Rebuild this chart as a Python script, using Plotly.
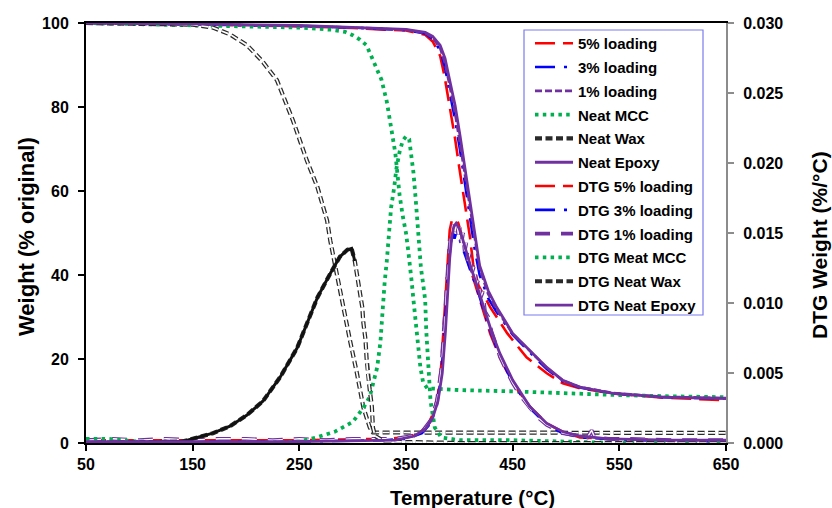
import plotly.graph_objects as go

# ---- TG curves: temperature (°C) vs weight (% of original) ----
tg5_t = [50, 150, 250, 300, 350, 368, 375, 382, 386, 391, 396, 400, 405, 410, 413, 418, 429, 445, 463, 482, 497, 513, 544, 591, 650]
tg5_w = [100, 99.7, 99.2, 98.8, 98.2, 97.2, 95.6, 92.2, 87.5, 80.5, 72.5, 65.5, 57.5, 49, 42.5, 37.5, 32.3, 26.1, 20.4, 16.6, 14.2, 13.0, 11.8, 10.8, 10.2]

tg3_t = [50, 150, 250, 300, 350, 368, 375, 382, 386.5, 391, 396, 400.5, 405, 410, 414.5, 419, 427, 435, 450, 466, 482, 497, 513, 544, 591, 650]
tg3_w = [100, 99.7, 99.3, 98.9, 98.3, 97.5, 96.2, 93.5, 89.5, 83.5, 77, 70, 62.5, 54, 46, 40, 34.5, 31.2, 25.8, 21.6, 17.6, 14.7, 13.2, 11.8, 10.9, 10.6]

tg1_t = [50, 150, 250, 300, 350, 368, 375, 382, 386.5, 391, 396, 400.5, 405, 410, 414.5, 419, 427, 435, 450, 466, 482, 497, 513, 544, 591, 650]
tg1_w = [100, 99.7, 99.3, 98.9, 98.4, 97.6, 96.5, 94, 90.5, 85, 78.5, 71.5, 64, 56, 48, 41.5, 35.5, 31.8, 26, 22, 17.9, 14.9, 13.3, 11.9, 11.0, 10.7]

tgE_t = [50, 150, 250, 300, 350, 368, 375, 382, 386.6, 391, 396, 400.6, 405, 410, 414.7, 419, 427, 435, 450, 466, 482, 497, 513, 544, 591, 650]
tgE_w = [100, 99.8, 99.4, 99.0, 98.5, 97.8, 96.8, 94.7, 91.6, 86.3, 80.4, 73.3, 66.1, 57.8, 49.5, 42.3, 36.3, 32.3, 26.1, 22.1, 18.0, 14.9, 13.3, 11.8, 10.9, 10.6]

mcc_t = [50, 100, 150, 200, 250, 280, 293, 300, 307, 313, 319, 323, 327, 332, 336, 340, 342, 344, 347, 350, 352, 354, 355.5, 357, 358.5, 360, 361.5, 363.5, 366, 370, 380, 400, 450, 500, 550, 600, 650]
mcc_w = [100, 99.7, 99.4, 99.2, 98.9, 98.4, 97.9, 97.1, 96.0, 94.7, 91.0, 89.0, 86.5, 81.3, 74.5, 69, 64, 59, 54, 50, 46, 42, 38, 34, 30, 26, 22, 18, 14.5, 13.0, 12.9, 12.6, 12.3, 11.8, 11.4, 11.1, 10.9]

wax_t = [50, 100, 150, 169, 185, 201, 215, 229, 244, 257, 267, 276, 279, 285, 291, 297.5, 304, 310, 316, 319, 330, 400, 500, 650]
wax_w = [100, 99.9, 99.6, 98.9, 97.3, 94.7, 91.0, 86.4, 76.8, 67.3, 60.9, 53.0, 48.2, 40.4, 32.3, 24.4, 16.6, 8.5, 3.7, 2.5, 2.5, 2.5, 2.5, 2.4]

# ---- DTG curves: temperature (°C) vs derivative weight (%/°C) ----
d5_t = [50, 150, 250, 330, 350, 362, 370, 376, 380, 383, 385, 387, 389, 391, 393, 396, 399, 402, 405, 409, 413, 418, 422, 429, 438, 450, 466, 482, 497, 513, 540, 600, 650]
d5_v = [0.0002, 0.0002, 0.0002, 0.0003, 0.0004, 0.0007, 0.0012, 0.0022, 0.0035, 0.0055, 0.0080, 0.0108, 0.0135, 0.0152, 0.0159, 0.0160, 0.0157, 0.0149, 0.0138, 0.0127, 0.0118, 0.0105, 0.0095, 0.0078, 0.0061, 0.0043, 0.0026, 0.0014, 0.0008, 0.0004, 0.0003, 0.0002, 0.0002]

d3_t = [50, 250, 330, 350, 365, 373, 379, 383, 386, 388, 390, 392, 394, 395.5, 397, 399, 402, 406, 410, 414, 418, 422, 429, 438, 450, 466, 482, 497, 513, 560, 650]
d3_v = [0.0001, 0.0001, 0.0002, 0.0003, 0.0007, 0.0014, 0.0027, 0.0048, 0.0078, 0.0105, 0.0128, 0.0143, 0.0150, 0.0146, 0.0150, 0.0148, 0.0142, 0.0133, 0.0124, 0.0116, 0.0107, 0.0097, 0.0080, 0.0062, 0.0043, 0.0025, 0.0013, 0.0007, 0.0004, 0.0002, 0.0001]

d1_t = [50, 75, 100, 125, 150, 175, 200, 225, 250, 275, 300, 320, 340, 355, 366, 374, 379, 383, 386, 388, 390, 392, 394, 396, 397.5, 399, 400.5, 402, 403.5, 405, 406.5, 408, 410, 412, 414, 416, 418, 420, 422, 424, 427, 430, 434, 438, 444, 450, 458, 466, 474, 482, 490, 497, 505, 513, 520, 524, 527, 540, 560, 600, 650]
d1_v = [0.0002, 0.0003, 0.0002, 0.0003, 0.0002, 0.0003, 0.0003, 0.0002, 0.0003, 0.0002, 0.0003, 0.0003, 0.0003, 0.0005, 0.0009, 0.0017, 0.0030, 0.0052, 0.0082, 0.0110, 0.0133, 0.0149, 0.0156, 0.0151, 0.0158, 0.0149, 0.0154, 0.0143, 0.0150, 0.0137, 0.0143, 0.0130, 0.0136, 0.0122, 0.0127, 0.0113, 0.0117, 0.0104, 0.0108, 0.0094, 0.0090, 0.0080, 0.0071, 0.0062, 0.0052, 0.0043, 0.0033, 0.0025, 0.0018, 0.0013, 0.0010, 0.0007, 0.0006, 0.0005, 0.0004, 0.0009, 0.0004, 0.0003, 0.0003, 0.0002, 0.0002]

dE_t = [50, 250, 340, 358, 368, 375, 380, 384, 387, 389, 391, 393, 395, 397, 400, 403, 407, 411, 415, 419, 424, 430, 438, 450, 466, 482, 497, 513, 540, 600, 650]
dE_v = [0.0001, 0.0001, 0.0002, 0.0005, 0.0010, 0.0018, 0.0030, 0.0050, 0.0080, 0.0108, 0.0132, 0.0148, 0.0155, 0.0157, 0.0153, 0.0146, 0.0135, 0.0125, 0.0116, 0.0106, 0.0094, 0.0080, 0.0064, 0.0045, 0.0026, 0.0014, 0.0008, 0.0005, 0.0003, 0.0002, 0.0002]

dmcc_t = [50, 70, 100, 150, 200, 250, 266, 283, 300, 310, 316, 319, 323, 326, 328, 330, 332, 334, 336, 339, 341, 344, 347, 350, 353, 355, 357, 359, 361, 363, 364, 366, 368, 369, 371, 373, 377, 383, 400, 450, 500, 550, 600, 650]
dmcc_v = [0.0003, 0.0003, 0.0001, 0.0, 0.0, 0.0001, 0.0004, 0.0008, 0.0015, 0.0025, 0.0033, 0.0043, 0.0054, 0.0072, 0.0095, 0.0115, 0.0130, 0.0148, 0.0168, 0.0183, 0.0196, 0.0208, 0.0216, 0.0219, 0.0217, 0.0205, 0.0193, 0.0175, 0.0155, 0.0138, 0.0125, 0.0114, 0.0102, 0.0080, 0.0055, 0.0030, 0.0011, 0.0004, 0.0002, 0.0002, 0.0001, 0.0, 0.0, 0.0]

dwax_t = [50, 140, 150, 169, 185, 201, 216, 232, 248, 257, 267, 279, 288, 295, 299, 302, 304, 307, 309, 310, 312, 313, 314, 316, 318, 319, 321, 330, 400, 650]
dwax_v = [0.0, 0.0001, 0.0003, 0.0007, 0.0012, 0.0020, 0.0030, 0.0047, 0.0068, 0.0085, 0.0104, 0.0121, 0.0133, 0.0138, 0.0139, 0.0130, 0.0121, 0.0109, 0.0097, 0.0086, 0.0074, 0.0061, 0.0050, 0.0038, 0.0026, 0.0011, 0.0005, 0.0001, 0.0, 0.0]

x_ticks = [50, 150, 250, 350, 450, 550, 650]

RED = "#ff0000"
BLUE = "#0000ff"
PURPLE = "#7030a0"
GREEN = "#00b050"
WAX = "#2a2a2a"

FONT = "Arial, Liberation Sans, sans-serif"

fig = go.Figure()


def add(name, x, y, color, width, dash, axis="y", legend=True, group=None):
    fig.add_trace(go.Scatter(
        x=x, y=y, name=name, mode="lines", yaxis=axis,
        line=dict(color=color, width=width, dash=dash),
        showlegend=legend, legendgroup=group or name, hoverinfo="skip",
    ))


def add_hollow(name, x, y, color, dash, axis="y", width=4.2, core=1.7):
    # outlined dashes: a wide coloured stroke with a thin white core on top
    add(name, x, y, color, width, dash, axis, True, name)
    add(name + " core", x, y, "white", core, dash, axis, False, name)


LONGDASH = "20px,8px"
DASHDOT = "20px,9px,3px,9px"
DASH = "7px,3px"
DOT = "3.5px,4.3px"
WAXDASH = "7px,3.5px"
HOLLOWDASH = "15px,11px"

# weight-loss curves (left axis)
add("5% loading", tg5_t, tg5_w, RED, 2.6, LONGDASH)
add("3% loading", tg3_t, tg3_w, BLUE, 2.6, DASHDOT)
add("1% loading", tg1_t, tg1_w, PURPLE, 2.6, DASH)
add("Neat MCC", mcc_t, mcc_w, GREEN, 3.8, DOT)
add_hollow("Neat Wax", wax_t, wax_w, WAX, WAXDASH)
add("Neat Epoxy", tgE_t, tgE_w, PURPLE, 2.8, "solid")

# derivative curves (right axis)
add("DTG 5% loading", d5_t, d5_v, RED, 2.6, LONGDASH, "y2")
add("DTG 3% loading", d3_t, d3_v, BLUE, 2.6, DASHDOT, "y2")
add_hollow("DTG 1% loading", d1_t, d1_v, PURPLE, HOLLOWDASH, "y2", 3.8, 1.4)
add("DTG Meat MCC", dmcc_t, dmcc_v, GREEN, 3.8, DOT, "y2")
add_hollow("DTG Neat Wax", dwax_t, dwax_v, WAX, WAXDASH, "y2")
# dense rising flank of the wax derivative reads as a solid black band
add("DTG Neat Wax rise", dwax_t[:16], dwax_v[:16], "#111111", 3.0, "solid", "y2", False, "DTG Neat Wax")
add("DTG Neat Epoxy", dE_t, dE_v, PURPLE, 2.8, "solid", "y2")

tickfont = dict(family=FONT, size=16, color="black", weight="bold")


def px_x(p):
    return (p - 86) / 640


def px_y(p):
    return (443 - p) / 420


fig.update_layout(
    width=832, height=508,
    margin=dict(l=86, r=106, t=23, b=65),
    paper_bgcolor="white", plot_bgcolor="white",
    font=dict(family=FONT, color="black"),
    showlegend=True,
    legend=dict(
        x=px_x(530), y=px_y(27), xanchor="left", yanchor="top",
        bgcolor="rgba(0,0,0,0)", borderwidth=0,
        font=dict(family=FONT, size=15, color="black", weight="bold"),
        tracegroupgap=1.3, traceorder="grouped", itemwidth=38,
    ),
    shapes=[
        dict(type="rect", xref="paper", yref="paper", layer="above",
             x0=px_x(524), x1=px_x(703), y0=px_y(315), y1=px_y(30),
             fillcolor="white", line=dict(color="#7b7bef", width=1.2)),
    ],
    xaxis=dict(
        range=[50, 650], tickvals=x_ticks, ticktext=[str(v) for v in x_ticks],
        showgrid=False, zeroline=False,
        showline=True, linecolor="black", linewidth=2, mirror=True,
        ticks="outside", ticklen=6, tickwidth=2, tickcolor="black",
        tickfont=tickfont,
    ),
    yaxis=dict(
        range=[0, 100], dtick=20, showgrid=False, zeroline=False,
        showline=True, linecolor="black", linewidth=2,
        ticks="outside", ticklen=6, tickwidth=2, tickcolor="black",
        tickfont=tickfont, ticklabelstandoff=6,
    ),
    yaxis2=dict(
        range=[0, 0.03], dtick=0.005, tickformat=".3f", overlaying="y", side="right",
        showgrid=False, zeroline=False,
        showline=True, linecolor="#8c8c8c", linewidth=2,
        ticks="outside", ticklen=6, tickwidth=2, tickcolor="#8c8c8c",
        tickfont=tickfont, ticklabelstandoff=6,
    ),
    annotations=[
        dict(text="Temperature (°C)", xref="paper", yref="paper", x=px_x(472), y=px_y(497),
             xanchor="center", yanchor="middle", showarrow=False,
             font=dict(family=FONT, size=20.5, color="black", weight="bold")),
        dict(text="Weight (% original)", xref="paper", yref="paper", x=px_x(26), y=px_y(237),
             xanchor="center", yanchor="middle", textangle=-90, showarrow=False,
             font=dict(family=FONT, size=22, color="black", weight="bold")),
        dict(text="DTG Weight (%/°C)", xref="paper", yref="paper", x=px_x(819), y=px_y(245),
             xanchor="center", yanchor="middle", textangle=-90, showarrow=False,
             font=dict(family=FONT, size=21, color="black", weight="bold")),
    ],
)

fig.write_html("out.html")
